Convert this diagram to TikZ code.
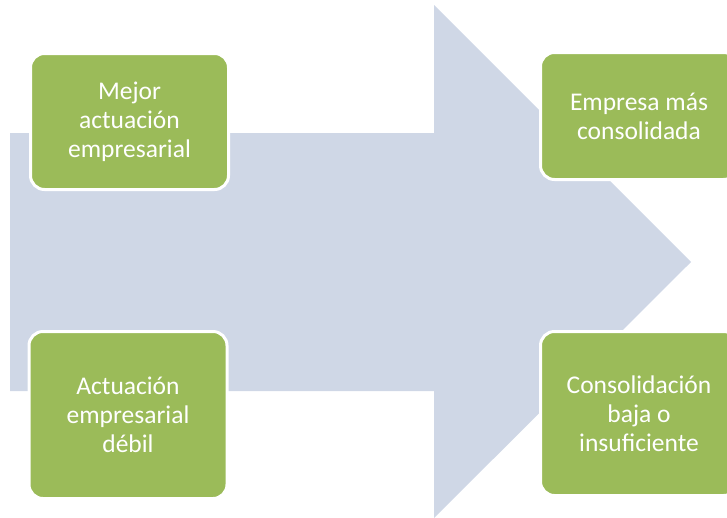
\documentclass[tikz,border=0pt]{standalone}
\usepackage{fontspec}
\setmainfont{Carlito}
\definecolor{arrowblue}{HTML}{CFD7E6}
\definecolor{boxgreen}{HTML}{9BBB59}

\begin{document}
\begin{tikzpicture}[x=1pt,y=-1pt,line join=round,
        stagebox/.style={rectangle,rounded corners=14pt,fill=boxgreen,draw=white,
            line width=3pt,inner sep=0pt,align=center,text=white,
            font=\fontsize{25.5}{29}\selectfont}]
        \useasboundingbox (0,0) rectangle (727,517);

        % draw the big arrow
        \fill[arrowblue] (10,133) -- (434,133) -- (434,5) -- (691,262)
            -- (434,518) -- (434,391) -- (10,391) -- cycle;

        % draw the four boxes
        \foreach \x/\y/\w/\h/\name/\txt in {
            % the boxes on the left
            129.5/121.5/198/136/mejor/{Mejor\\actuación\\empresarial},
            128/415/198/167/debil/{Actuación\\empresarial\\débil},
            % the boxes on the right
            639/116/197/127/empresa/{Empresa más\\consolidada},
            639/413.5/197/164/insuf/{Consolidación\\baja o\\insuficiente}}
                \node[stagebox,minimum width=\w pt,minimum height=\h pt] (\name) at (\x,\y) {\txt};

\end{tikzpicture}
\end{document}
